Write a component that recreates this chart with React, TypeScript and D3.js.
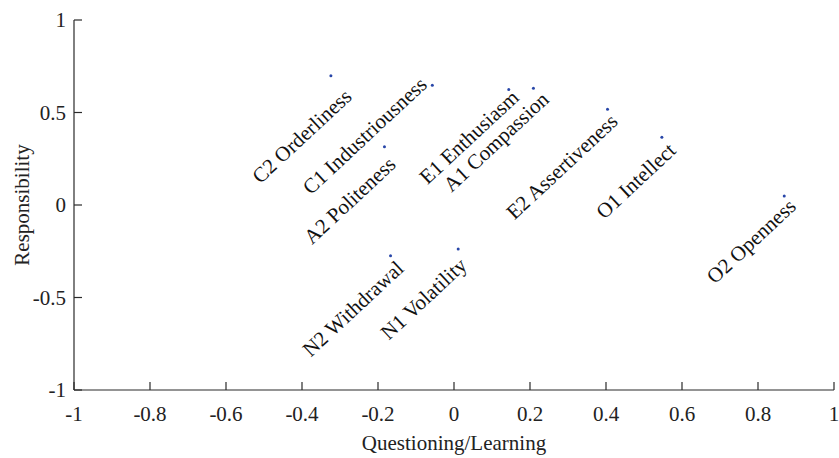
import React from "react";
import * as d3 from "d3";

const names = [
  "C2 Orderliness",
  "C1 Industriousness",
  "A2 Politeness",
  "E1 Enthusiasm",
  "A1 Compassion",
  "E2 Assertiveness",
  "O1 Intellect",
  "O2 Openness",
  "N2 Withdrawal",
  "N1 Volatility",
];
const questioning = [-0.324, -0.057, -0.183, 0.144, 0.209, 0.404, 0.547, 0.869, -0.167, 0.011];
const responsibility = [0.699, 0.647, 0.315, 0.625, 0.631, 0.517, 0.366, 0.049, -0.274, -0.238];
// label anchor (end of rotated text) in data units
const labelX = [-0.266, -0.068, -0.15, 0.174, 0.253, 0.434, 0.587, 0.903, -0.129, 0.037];
const labelY = [0.578, 0.643, 0.211, 0.573, 0.562, 0.443, 0.286, -0.016, -0.351, -0.335];

const xTicks = [-1, -0.8, -0.6, -0.4, -0.2, 0, 0.2, 0.4, 0.6, 0.8, 1];
const yTicks = [-1, -0.5, 0, 0.5, 1];

const W = 839;
const H = 458;
const L = 74, R = 834, T = 20, B = 390;
const FONT = "'Liberation Serif', 'Times New Roman', serif";
const FS = 21;

export default function App() {
  const x = d3.scaleLinear().domain([-1, 1]).range([L, R]);
  const y = d3.scaleLinear().domain([-1, 1]).range([B, T]);
  const fmt = (v: number) => String(v);
  const axisColor = "#2a2a2a";
  return (
    <svg
      width={W}
      height={H}
      style={{ position: "absolute", left: 0, top: 0, background: "#fff" }}
      fontFamily={FONT}
    >
      <rect x={0} y={0} width={W} height={H} fill="#fff" />
      <line x1={L} y1={B} x2={R} y2={B} stroke={axisColor} strokeWidth={1.2} />
      <line x1={L} y1={B} x2={L} y2={T} stroke={axisColor} strokeWidth={1.2} />
      {xTicks.map((t) => (
        <g key={"xt" + t}>
          <line x1={x(t)} x2={x(t)} y1={B} y2={B - 8} stroke={axisColor} strokeWidth={1.2} />
          <text x={x(t)} y={421} textAnchor="middle" fontSize={FS} fill="#222">
            {fmt(t)}
          </text>
        </g>
      ))}
      {yTicks.map((t) => (
        <g key={"yt" + t}>
          <line x1={L} x2={L + 8} y1={y(t)} y2={y(t)} stroke={axisColor} strokeWidth={1.2} />
          <text x={L - 8} y={y(t)} dy="0.35em" textAnchor="end" fontSize={FS} fill="#222">
            {fmt(t)}
          </text>
        </g>
      ))}
      <text x={(L + R) / 2} y={450} textAnchor="middle" fontSize={FS} fill="#222">
        Questioning/Learning
      </text>
      <text
        transform={`translate(29, ${(T + B) / 2}) rotate(-90)`}
        textAnchor="middle"
        fontSize={FS}
        fill="#222"
      >
        Responsibility
      </text>
      {names.map((n, i) => (
        <circle key={"p" + n} cx={x(questioning[i])} cy={y(responsibility[i])} r={1.5} fill="#2846a8" />
      ))}
      {names.map((n, i) => (
        <text
          key={"l" + n}
          transform={`translate(${x(labelX[i])}, ${y(labelY[i])}) rotate(-43)`}
          textAnchor="end"
          fontSize={FS}
          fill="#111"
        >
          {n}
        </text>
      ))}
    </svg>
  );
}
